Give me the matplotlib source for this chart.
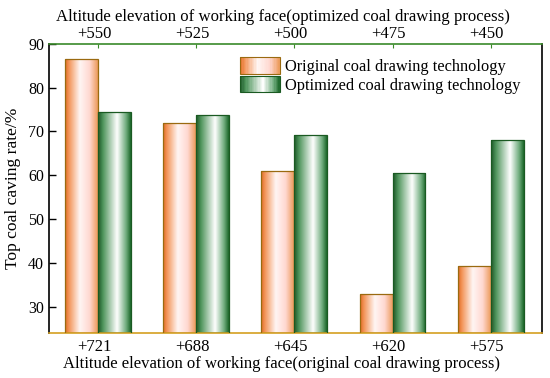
import numpy as np
import matplotlib
matplotlib.use("Agg")
import matplotlib.pyplot as plt
import matplotlib.transforms as mtransforms
from matplotlib.colors import LinearSegmentedColormap
from matplotlib.legend_handler import HandlerBase
from matplotlib.patches import Rectangle

# data
original_labels = ['+721', '+688', '+645', '+620', '+575']
optimized_labels = ['+550', '+525', '+500', '+475', '+450']
original_rate = [86.5, 72.0, 61.0, 33.0, 39.2]
optimized_rate = [74.5, 73.8, 69.3, 60.5, 68.0]

plt.rcParams['font.family'] = ['Liberation Serif', 'DejaVu Serif']

orange_cmap = LinearSegmentedColormap.from_list(
    'org', [(0, '#e06a22'), (0.12, '#f3955a'), (0.45, '#fff6f4'),
            (0.75, '#ffd8d0'), (1.0, '#ec9a5a')])
green_cmap = LinearSegmentedColormap.from_list(
    'grn', [(0, '#1a5526'), (0.15, '#4f955c'), (0.58, '#ffffff'),
            (0.85, '#72ae80'), (1.0, '#1a6628')])


def fill_gradient(ax, bars, cmap):
    grad = np.linspace(0, 1, 256).reshape(1, -1)
    for b in bars:
        x0, y0 = b.get_x(), b.get_y()
        w, h = b.get_width(), b.get_height()
        im = ax.imshow(grad, cmap=cmap, aspect='auto', interpolation='bicubic',
                       extent=[x0, x0 + w, y0, y0 + h], zorder=2)
        im.set_clip_path(b)


class GradientHandler(HandlerBase):
    def __init__(self, cmap, edge):
        super().__init__()
        self.cmap = cmap
        self.edge = edge

    def create_artists(self, legend, orig_handle, xdescent, ydescent,
                       width, height, fontsize, trans):
        n = 30
        arts = []
        for i in range(n):
            r = Rectangle((-xdescent + width * i / n, -ydescent),
                          width / n + 0.3, height,
                          facecolor=self.cmap((i + 0.5) / n),
                          edgecolor='none', transform=trans)
            arts.append(r)
        arts.append(Rectangle((-xdescent, -ydescent), width, height,
                              facecolor='none', edgecolor=self.edge,
                              lw=0.8, transform=trans))
        return arts


fig = plt.figure(figsize=(5.5, 3.78), dpi=100)
ax = fig.add_axes([0.089, 0.119, 0.896, 0.765])

x = np.arange(len(original_labels))
w = 0.335
base = 24
b1 = ax.bar(x - w / 2, np.array(original_rate) - base, w, bottom=base,
            facecolor='none', edgecolor='#9a6a10', lw=0.9, zorder=3,
            label='Original coal drawing technology')
b2 = ax.bar(x + w / 2, np.array(optimized_rate) - base, w, bottom=base,
            facecolor='none', edgecolor='#1a5a22', lw=0.9, zorder=3,
            label='Optimized coal drawing technology')
fill_gradient(ax, b1, orange_cmap)
fill_gradient(ax, b2, green_cmap)

ax.set_xlim(-0.5, 4.52)
ax.set_ylim(base, 90)
ax.set_yticks(range(30, 91, 10))
ax.set_xticks(x)
ax.set_xticklabels(original_labels, fontsize=12)
ax.tick_params(axis='x', length=0, pad=4)
ax.tick_params(axis='y', direction='in', length=5, width=1, labelsize=11.5)
ax.set_xlabel('Altitude elevation of working face(original coal drawing process)',
              fontsize=12, labelpad=1)
ax.xaxis.label.set_x(0.472)
ax.set_ylabel('Top coal caving rate/%', fontsize=12.6, labelpad=5)

ax.spines['left'].set_color('black')
ax.spines['right'].set_color('black')
ax.spines['top'].set_color('#3a8a2a')
ax.spines['bottom'].set_color('#d4a020')
for s in ax.spines.values():
    s.set_linewidth(1.2)

top = ax.secondary_xaxis('top')
top.set_xticks(x)
top.set_xticklabels(optimized_labels, fontsize=12)
top.tick_params(direction='in', length=3, color='#3a8a2a', pad=1)
top.set_xlabel('Altitude elevation of working face(optimized coal drawing process)',
               fontsize=12.1, labelpad=4)
top.xaxis.label.set_x(0.474)
top.spines['top'].set_visible(False)

# tick labels sit a little left of their ticks in the reference
shift = mtransforms.ScaledTranslation(-4 / 100, 0, fig.dpi_scale_trans)
for lab in ax.get_xticklabels() + top.get_xticklabels():
    lab.set_transform(lab.get_transform() + shift)

ax.legend(handles=[b1, b2], loc='upper left', frameon=False, fontsize=11.8,
          handlelength=2.44, handleheight=1.2, handletextpad=0.3,
          labelspacing=0.05, borderpad=0, borderaxespad=0,
          bbox_to_anchor=(0.387, 0.955),
          handler_map={b1: GradientHandler(orange_cmap, '#9a6a10'),
                       b2: GradientHandler(green_cmap, '#1a5a22')})

fig.savefig('out.png', dpi=100)
